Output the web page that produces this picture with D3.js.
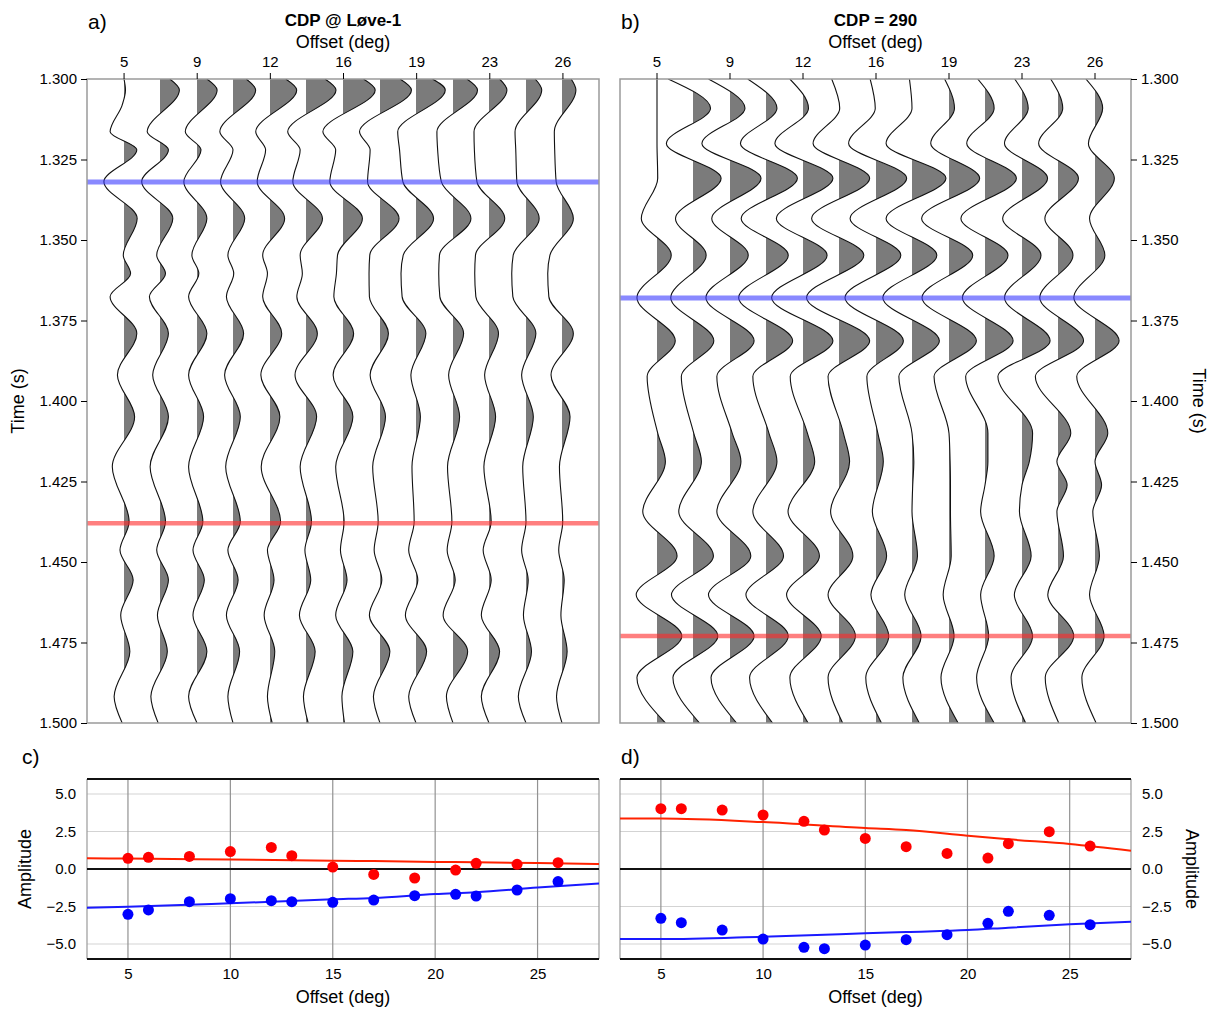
<!DOCTYPE html>
<html>
<head>
<meta charset="utf-8">
<script src="https://cdn.jsdelivr.net/npm/d3@7"></script>
<style>
  body { margin: 0; background: #fff; }
</style>
</head>
<body>
<div id="grafico"></div>
<script>
const WIDTH = 1213;
const HEIGHT = 1010;
const FONT = "'Liberation Sans', Arial, Helvetica, sans-serif";

// one wiggle trace per offset (deg)
const offsets = [5, 6, 8, 10, 12, 13, 15, 17, 19, 21, 22, 24, 26];
const topTickTraces = [0, 2, 4, 6, 8, 10, 12];
const topTickLabels = ["5", "9", "12", "16", "19", "23", "26"];
const timeTicks = [1.300, 1.325, 1.350, 1.375, 1.400, 1.425, 1.450, 1.475, 1.500];

// panel a: times (s) of peaks / troughs, amplitude of every trace at that time
// (1 = one trace spacing, null = no turning point there)
const timesA = [1.3000, 1.3034, 1.3081, 1.3164, 1.3220, 1.3319, 1.3433, 1.3547, 1.3604, 1.3676,
                1.3790, 1.3919, 1.4049, 1.4204, 1.4375, 1.4463, 1.4556, 1.4665, 1.4778, 1.4918, 1.5000];
const ampsA = [
  [0.00, 0.27, 0.27, 0.36, 0.43, 0.52, 0.56, 0.55, 0.45, 0.38, 0.29, 0.25, 0.25],
  [0.04, 0.53, 0.55, 0.62, 0.73, 0.82, 0.88, 0.86, 0.80, 0.67, 0.49, 0.43, 0.38],
  [-0.05, null, null, null, null, null, null, null, null, null, null, null, null],
  [-0.38, -0.35, -0.32, -0.36, -0.39, -0.50, -0.55, -0.56, -0.50, -0.44, -0.41, -0.30, -0.21],
  [0.35, 0.23, 0.11, 0.00, -0.12, -0.16, -0.20, -0.27, -0.45, -0.42, -0.40, -0.28, -0.20],
  [-0.55, -0.50, -0.36, -0.34, -0.35, -0.36, -0.36, -0.34, -0.36, -0.32, -0.33, -0.25, -0.16],
  [0.36, 0.35, 0.27, 0.32, 0.40, 0.45, 0.53, 0.52, 0.48, 0.49, 0.43, 0.36, 0.31],
  [-0.02, -0.09, -0.14, -0.14, -0.20, -0.16, -0.15, -0.28, -0.35, -0.37, -0.37, -0.35, -0.33],
  [0.18, 0.15, 0.05, 0.02, -0.07, -0.10, -0.18, -0.30, -0.41, -0.39, -0.39, -0.39, -0.39],
  [-0.38, -0.29, -0.23, -0.18, -0.20, -0.25, -0.25, -0.29, -0.38, -0.36, -0.36, -0.36, -0.36],
  [0.35, 0.23, 0.27, 0.29, 0.32, 0.31, 0.29, 0.23, 0.27, 0.29, 0.26, 0.27, 0.31],
  [-0.18, -0.20, -0.23, -0.23, -0.25, -0.30, -0.27, -0.27, -0.14, -0.12, -0.12, -0.12, -0.30],
  [0.29, 0.23, 0.18, 0.20, 0.27, 0.29, 0.27, 0.15, 0.12, 0.18, 0.18, 0.20, 0.22],
  [-0.32, -0.27, -0.23, -0.20, -0.24, -0.16, -0.20, -0.20, -0.11, -0.15, -0.14, -0.09, -0.07],
  [0.14, 0.15, 0.16, 0.20, 0.29, 0.15, 0.03, -0.05, -0.05, -0.03, 0.06, 0.00, 0.02],
  [-0.11, -0.09, -0.11, -0.14, -0.07, -0.03, -0.07, -0.16, -0.20, -0.16, -0.16, -0.12, -0.09],
  [0.25, 0.23, 0.20, 0.14, 0.11, 0.13, 0.11, 0.05, 0.05, 0.06, 0.06, 0.06, 0.06],
  [-0.09, -0.07, -0.11, -0.18, -0.16, -0.18, -0.20, -0.29, -0.29, -0.27, -0.21, -0.07, -0.03],
  [0.16, 0.20, 0.27, 0.18, 0.13, 0.25, 0.27, 0.27, 0.29, 0.40, 0.29, 0.15, 0.14],
  [-0.27, -0.25, -0.23, -0.14, -0.07, -0.07, -0.03, -0.18, -0.20, -0.18, -0.21, -0.21, -0.15],
  [-0.05, -0.05, 0.00, 0.00, 0.06, 0.06, 0.04, 0.00, 0.00, 0.00, 0.00, 0.00, 0.00]
];
const topHorizonA = 1.332;
const baseHorizonA = 1.438;

// panel b: CDP 290
const timesB = [1.3000, 1.3091, 1.3200, 1.3308, 1.3433, 1.3547, 1.3679, 1.3813, 1.3924,
                1.4100, 1.4188, 1.4261, 1.4344, 1.4481, 1.4602, 1.4730, 1.4859, 1.5000];
const ampsB = [
  [0.00, -0.68, -0.59, -0.50, -0.36, -0.20, -0.16, -0.07, -0.12, -0.20, -0.20, -0.20, -0.25],
  [0.00, 0.48, 0.41, 0.30, 0.15, 0.02, -0.02, 0.00, 0.15, 0.25, 0.17, 0.13, 0.21],
  [0.00, -0.73, -0.77, -0.70, -0.77, -0.71, -0.75, -0.71, -0.50, -0.50, -0.48, -0.53, -0.18],
  [0.02, 0.77, 0.85, 0.86, 0.82, 0.84, 0.84, 0.93, 0.84, 0.86, 0.70, 0.56, 0.53],
  [-0.43, -0.48, -0.50, -0.68, -0.73, -0.75, -0.71, -0.71, -0.75, -0.66, -0.53, -0.36, -0.15],
  [0.39, 0.36, 0.50, 0.61, 0.66, 0.68, 0.68, 0.68, 0.65, 0.63, 0.52, 0.41, 0.27],
  [-0.55, -0.61, -0.66, -0.75, -0.86, -0.89, -0.85, -0.80, -0.74, -0.62, -0.48, -0.50, -0.58],
  [0.50, 0.57, 0.66, 0.73, 0.82, 0.84, 0.75, 0.75, 0.75, 0.77, 0.77, 0.70, 0.66],
  [-0.27, -0.32, -0.36, -0.36, -0.35, -0.30, -0.25, -0.36, -0.41, -0.53, -0.66, -0.62, -0.50],
  [0.02, 0.02, 0.06, 0.08, 0.12, 0.12, 0.05, 0.00, 0.00, 0.08, 0.29, 0.35, 0.35],
  [0.23, 0.23, 0.30, 0.30, 0.32, 0.29, 0.20, 0.05, 0.03, 0.08, 0.20, -0.03, 0.00],
  [null, null, null, null, null, null, null, 0.02, 0.04, 0.00, 0.00, 0.25, 0.18],
  [-0.39, -0.39, -0.36, -0.36, -0.41, -0.23, -0.10, 0.00, 0.04, -0.12, -0.07, -0.03, -0.06],
  [0.55, 0.56, 0.57, 0.48, 0.45, 0.38, 0.29, 0.15, 0.06, 0.25, 0.25, 0.15, 0.12],
  [-0.57, -0.59, -0.59, -0.55, -0.45, -0.30, -0.14, -0.20, -0.16, -0.12, -0.21, -0.28, -0.15],
  [0.68, 0.68, 0.66, 0.61, 0.50, 0.45, 0.35, 0.25, 0.14, 0.10, 0.29, 0.43, 0.25],
  [-0.55, -0.55, -0.52, -0.45, -0.36, -0.30, -0.28, -0.25, -0.22, -0.23, -0.30, -0.35, -0.36],
  [0.23, 0.18, 0.18, 0.18, 0.14, 0.10, 0.15, 0.20, 0.25, 0.25, 0.10, 0.02, 0.03]
];
const topHorizonB = 1.368;
const baseHorizonB = 1.473;

// panels c / d: picked amplitudes per offset and the fitted trends
const ampTicks = [-5, -2.5, 0, 2.5, 5];
const offsetTicks = [5, 10, 15, 20, 25];
const baseC = [0.71, 0.78, 0.84, 1.16, 1.44, 0.89, 0.13, -0.36, -0.60, -0.07, 0.38, 0.31, 0.42];
const topC = [-3.02, -2.73, -2.18, -1.98, -2.11, -2.18, -2.22, -2.07, -1.78, -1.69, -1.80, -1.40, -0.84];
const baseD = [4.02, 4.02, 3.93, 3.60, 3.18, 2.60, 2.04, 1.49, 1.04, 0.73, 1.69, 2.49, 1.53];
const topD = [-3.29, -3.58, -4.07, -4.67, -5.22, -5.31, -5.07, -4.71, -4.38, -3.62, -2.82, -3.09, -3.71];
const fitOffsets = [3, 5, 10, 15, 17, 20, 22, 25, 28];
const baseFitC = [0.71, 0.70, 0.63, 0.55, 0.53, 0.47, 0.45, 0.40, 0.33];
const topFitC = [-2.58, -2.52, -2.29, -2.02, -1.93, -1.67, -1.55, -1.24, -0.96];
const baseFitD = [3.36, 3.36, 3.13, 2.73, 2.60, 2.22, 1.98, 1.67, 1.22];
const topFitD = [-4.67, -4.67, -4.51, -4.29, -4.20, -4.07, -3.91, -3.69, -3.51];

let svg = d3.select("#grafico")
    .append("svg")
    .attr("width", WIDTH)
    .attr("height", HEIGHT)
    .style("font-family", FONT);

let defs = svg.append("defs");

function drawGather(xRange, times, amps, topT, baseT, side, key, letter, title) {
    let x = d3.scaleLinear().domain([-1, 13]).range(xRange);
    let y = d3.scaleLinear().domain([1.3, 1.5]).range([79, 723]);
    let sp = x(1) - x(0);
    let g = svg.append("g");

    defs.append("clipPath").attr("id", "clip" + key)
        .append("rect")
        .attr("x", xRange[0]).attr("y", 79)
        .attr("width", xRange[1] - xRange[0]).attr("height", 644);
    let plot = g.append("g").attr("clip-path", "url(#clip" + key + ")");

    offsets.forEach((o, i) => {
        let pts = times.map((t, k) => [t, amps[k][i]]).filter(p => p[1] !== null);
        // baseline on a whole pixel so the clip edge leaves no hairline
        let base = Math.round(x(i));
        // positive lobes only: clip the filled area at the trace baseline
        defs.append("clipPath").attr("id", "clip" + key + i)
            .append("rect")
            .attr("x", base).attr("y", 79)
            .attr("width", Math.round(sp * 2)).attr("height", 644);
        plot.append("path")
            .datum(pts)
            .attr("clip-path", "url(#clip" + key + i + ")")
            .attr("d", d3.area()
                .x0(base)
                .x1(p => base + p[1] * sp)
                .y(p => y(p[0]))
                .curve(d3.curveMonotoneY))
            .style("fill", "#7b7b7b");
        plot.append("path")
            .datum(pts)
            .attr("d", d3.line()
                .x(p => base + p[1] * sp)
                .y(p => y(p[0]))
                .curve(d3.curveMonotoneY))
            .style("fill", "none")
            .style("stroke", "#111")
            .style("stroke-width", 1.1);
    });

    plot.append("line")
        .attr("x1", xRange[0]).attr("x2", xRange[1])
        .attr("y1", y(topT)).attr("y2", y(topT))
        .style("stroke", "#3b3bff").style("stroke-opacity", 0.6).style("stroke-width", 5);
    plot.append("line")
        .attr("x1", xRange[0]).attr("x2", xRange[1])
        .attr("y1", y(baseT)).attr("y2", y(baseT))
        .style("stroke", "#ff2a2a").style("stroke-opacity", 0.6).style("stroke-width", 4.5);

    g.append("rect")
        .attr("x", xRange[0]).attr("y", 79)
        .attr("width", xRange[1] - xRange[0]).attr("height", 644)
        .style("fill", "none").style("stroke", "#9a9a9a").style("stroke-width", 1.5);

    let top = g.append("g")
        .attr("transform", "translate(0,79)")
        .call(d3.axisTop(x).tickValues(topTickTraces)
            .tickFormat((d, i) => topTickLabels[i])
            .tickSize(6).tickPadding(6));
    top.select(".domain").remove();
    top.selectAll("text").style("font-size", "15px").style("font-family", FONT);

    let axis = side == "left" ? d3.axisLeft(y) : d3.axisRight(y);
    let yAx = g.append("g")
        .attr("transform", "translate(" + (side == "left" ? xRange[0] : xRange[1]) + ",0)")
        .call(axis.tickValues(timeTicks).tickFormat(d3.format(".3f")).tickSize(6).tickPadding(4));
    yAx.select(".domain").remove();
    yAx.selectAll("text").style("font-size", "15px").style("font-family", FONT);

    let cx = (xRange[0] + xRange[1]) / 2;
    g.append("text")
        .attr("x", cx).attr("y", 26)
        .attr("text-anchor", "middle")
        .style("font-size", "17px").style("font-weight", "bold")
        .text(title);
    g.append("text")
        .attr("x", cx).attr("y", 48)
        .attr("text-anchor", "middle")
        .style("font-size", "18px")
        .text("Offset (deg)");
    g.append("text")
        .attr("x", xRange[0] + 1).attr("y", 29)
        .style("font-size", "21px")
        .text(letter);

    let lx = side == "left" ? 24 : 1193;
    g.append("text")
        .attr("transform", "translate(" + lx + ",401) rotate(" + (side == "left" ? -90 : 90) + ")")
        .attr("text-anchor", "middle")
        .style("font-size", "18px")
        .text("Time (s)");
}

function drawAvo(xRange, basePts, topPts, baseFit, topFit, side, letter) {
    let x = d3.scaleLinear().domain([3, 28]).range(xRange);
    let y = d3.scaleLinear().domain([-6, 6]).range([959, 779]);
    let g = svg.append("g");

    // grid
    g.selectAll(".hgrid")
        .data(ampTicks.filter(d => d != 0))
        .enter()
        .append("line")
        .attr("x1", xRange[0]).attr("x2", xRange[1])
        .attr("y1", d => y(d)).attr("y2", d => y(d))
        .style("stroke", "#d3d3d3").style("stroke-width", 1.2);
    g.selectAll(".vgrid")
        .data(offsetTicks)
        .enter()
        .append("line")
        .attr("x1", d => x(d)).attr("x2", d => x(d))
        .attr("y1", 779).attr("y2", 959)
        .style("stroke", "#929292").style("stroke-width", 1.2);

    // side borders thin, top / bottom / zero dark
    [xRange[0], xRange[1]].forEach(v => {
        g.append("line")
            .attr("x1", v).attr("x2", v).attr("y1", 779).attr("y2", 959)
            .style("stroke", "#9a9a9a").style("stroke-width", 1.2);
    });
    [6, -6, 0].forEach(v => {
        g.append("line")
            .attr("x1", xRange[0]).attr("x2", xRange[1])
            .attr("y1", y(v)).attr("y2", y(v))
            .style("stroke", "#111").style("stroke-width", 2);
    });

    let line = d3.line()
        .x((d, i) => x(fitOffsets[i]))
        .y(d => y(d))
        .curve(d3.curveMonotoneX);
    g.append("path").datum(baseFit).attr("d", line)
        .style("fill", "none").style("stroke", "#ff2200").style("stroke-width", 2);
    g.append("path").datum(topFit).attr("d", line)
        .style("fill", "none").style("stroke", "#1a1aff").style("stroke-width", 2);

    g.selectAll(".basept")
        .data(basePts)
        .enter()
        .append("circle")
        .attr("cx", (d, i) => x(offsets[i]))
        .attr("cy", d => y(d))
        .attr("r", 5.5)
        .style("fill", "#ff0000");
    g.selectAll(".toppt")
        .data(topPts)
        .enter()
        .append("circle")
        .attr("cx", (d, i) => x(offsets[i]))
        .attr("cy", d => y(d))
        .attr("r", 5.5)
        .style("fill", "#0000ff");

    let xAx = g.append("g")
        .attr("transform", "translate(0,959)")
        .call(d3.axisBottom(x).tickValues(offsetTicks).tickSize(0).tickPadding(9));
    xAx.select(".domain").remove();
    xAx.selectAll("text").style("font-size", "15px").style("font-family", FONT);

    let axis = side == "left" ? d3.axisLeft(y) : d3.axisRight(y);
    let yAx = g.append("g")
        .attr("transform", "translate(" + (side == "left" ? xRange[0] : xRange[1]) + ",0)")
        .call(axis.tickValues(ampTicks).tickFormat(d3.format(".1f")).tickSize(0).tickPadding(11));
    yAx.select(".domain").remove();
    yAx.selectAll("text").style("font-size", "15px").style("font-family", FONT);

    g.append("text")
        .attr("x", (xRange[0] + xRange[1]) / 2).attr("y", 1003)
        .attr("text-anchor", "middle")
        .style("font-size", "18px")
        .text("Offset (deg)");

    let lx = side == "left" ? 31 : 1186;
    g.append("text")
        .attr("transform", "translate(" + lx + ",869) rotate(" + (side == "left" ? -90 : 90) + ")")
        .attr("text-anchor", "middle")
        .style("font-size", "18px")
        .text("Amplitude");

    g.append("text")
        .attr("x", side == "left" ? 22 : 621).attr("y", 764)
        .style("font-size", "21px")
        .text(letter);
}

drawGather([87, 599], timesA, ampsA, topHorizonA, baseHorizonA, "left", "A", "a)", "CDP @ Løve-1");
drawGather([620, 1131], timesB, ampsB, topHorizonB, baseHorizonB, "right", "B", "b)", "CDP = 290");
drawAvo([87, 599], baseC, topC, baseFitC, topFitC, "left", "c)");
drawAvo([620, 1131], baseD, topD, baseFitD, topFitD, "right", "d)");
</script>
</body>
</html>
